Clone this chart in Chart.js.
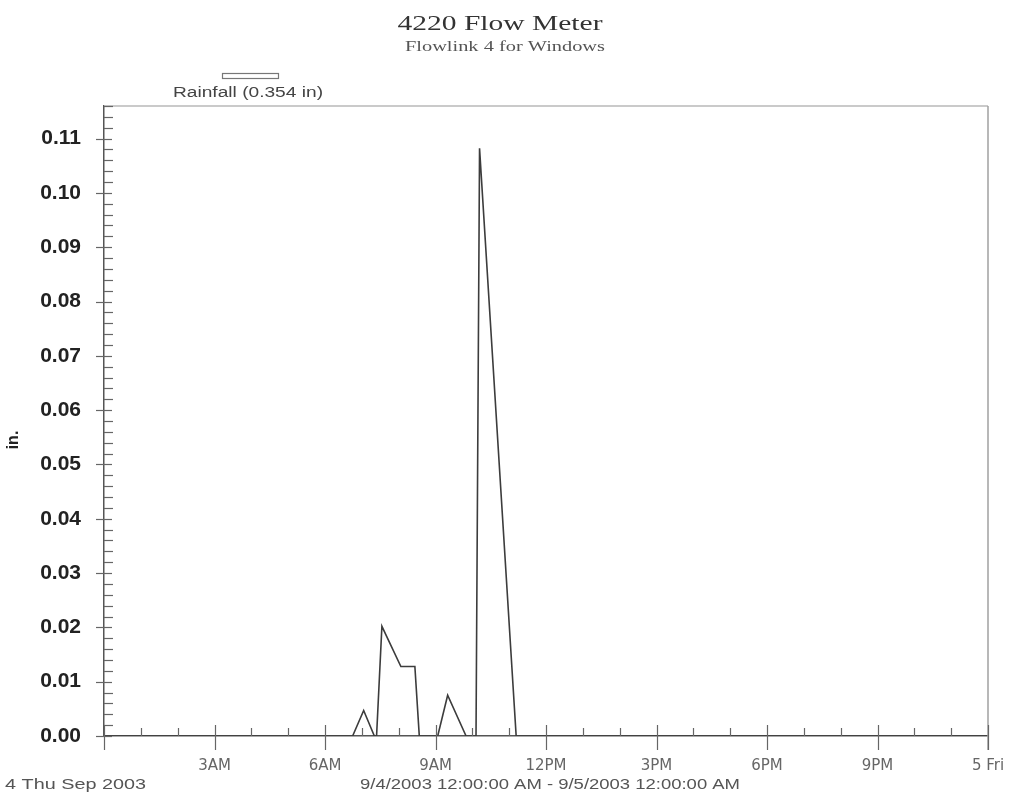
<!DOCTYPE html>
<html>
<head>
<meta charset="utf-8">
<title>4220 Flow Meter</title>
<script src="https://cdn.jsdelivr.net/npm/chart.js@4/dist/chart.umd.min.js"></script>
<style>
  html, body { margin: 0; padding: 0; background: #fff; }
  #wrap { width: 1013px; height: 798px; position: relative; }
</style>
</head>
<body>
<div id="wrap"><canvas id="rain"></canvas></div>
<script>
// rainfall trace, hours since midnight 9/4/2003 and inches per reading
const hours  = [0, 6.75, 7.05,  7.34, 7.40, 7.545, 8.06,   8.44,   8.56, 9.06, 9.33,   9.83, 10.10, 10.196, 11.19, 24]
const rainIn = [0, 0,    0.0047, 0,   0,    0.0202, 0.0128, 0.0128, 0,    0,    0.0075, 0,    0,     0.1082, 0,     0]

const hourLabels = ["", "3AM", "6AM", "9AM", "12PM", "3PM", "6PM", "9PM", "5 Fri"]
const yMax = 0.116
const seriesLabel = "Rainfall (0.354 in)"
const chartTitle = "4220 Flow Meter"
const chartSubtitle = "Flowlink 4 for Windows"
const startLabel = "4 Thu Sep 2003"
const rangeLabel = "9/4/2003 12:00:00 AM - 9/5/2003 12:00:00 AM"

// text squeezed/stretched to a given width, centred on cx
function stretchText(ctx, text, cx, baseline, font, color, width) {
  ctx.save()
  ctx.font = font
  ctx.fillStyle = color
  ctx.textAlign = "center"
  ctx.textBaseline = "alphabetic"
  const w = ctx.measureText(text).width
  ctx.translate(cx, baseline)
  ctx.scale(width / w, 1)
  ctx.fillText(text, 0, 0)
  ctx.restore()
}

const framePlugin = {
  id: "frame",
  afterDraw(chart) {
    const { ctx, chartArea: a, scales: { x, y } } = chart
    ctx.save()

    // light top and right edges of the plot box
    ctx.lineWidth = 1.5
    ctx.strokeStyle = "#b8b8b8"
    ctx.beginPath()
    ctx.moveTo(a.left, a.top)
    ctx.lineTo(a.right, a.top)
    ctx.stroke()
    ctx.strokeStyle = "#a0a0a0"
    ctx.beginPath()
    ctx.moveTo(a.right, a.top)
    ctx.lineTo(a.right, a.bottom + 14)
    ctx.stroke()

    // y ticks: labelled every 0.01, small ones every 0.002
    ctx.strokeStyle = "#666"
    ctx.lineWidth = 1.2
    for (let k = 0; k * 0.002 <= yMax + 1e-9; k++) {
      const py = Math.round(y.getPixelForValue(k * 0.002)) + 0.5
      const major = k % 5 === 0
      ctx.beginPath()
      ctx.moveTo(a.left - (major ? 8 : 0), py)
      ctx.lineTo(a.left + (major ? 8 : 9), py)
      ctx.stroke()
    }

    // x ticks: every 3 hours across the axis, hourly inside
    for (let h = 0; h <= 24; h++) {
      const px = Math.round(x.getPixelForValue(h)) + 0.5
      const major = h % 3 === 0
      ctx.beginPath()
      ctx.moveTo(px, a.bottom - (major ? 11 : 8))
      ctx.lineTo(px, a.bottom + (major ? 14 : 0))
      ctx.stroke()
    }

    // axis title
    ctx.save()
    ctx.translate(14, 440)
    ctx.rotate(-Math.PI / 2)
    ctx.font = "bold 16px 'Liberation Sans'"
    ctx.fillStyle = "#222"
    ctx.textAlign = "center"
    ctx.textBaseline = "middle"
    ctx.fillText("in.", 0, 0)
    ctx.restore()

    // headings
    stretchText(ctx, chartTitle, 500, 30, "22px 'Liberation Serif'", "#333", 205)
    stretchText(ctx, chartSubtitle, 505, 51, "14px 'Liberation Serif'", "#555", 200)

    // series key: open swatch above its name
    ctx.strokeStyle = "#777"
    ctx.lineWidth = 1.2
    ctx.strokeRect(222.5, 73.5, 56, 5)
    stretchText(ctx, seriesLabel, 248, 97, "14px 'Liberation Sans'", "#444", 150)

    // date footer
    stretchText(ctx, startLabel, 75.5, 789, "14px 'Liberation Sans'", "#555", 141)
    stretchText(ctx, rangeLabel, 550, 789, "14px 'Liberation Sans'", "#555", 380)

    ctx.restore()
  }
}

const ctx = document.getElementById("rain").getContext("2d")

new Chart(ctx, {
  type: "line",
  data: {
    datasets: [
      {
        label: seriesLabel,
        data: hours.map((h, i) => ({ x: h, y: rainIn[i] })),
        borderColor: "#3c3c3c",
        borderWidth: 1.6,
        pointRadius: 0,
        tension: 0,
        fill: false,
      },
    ],
  },
  options: {
    responsive: true,
    maintainAspectRatio: false,
    animation: false,
    layout: { padding: { top: 106, right: 25, bottom: 0, left: 0 } },
    plugins: {
      legend: { display: false },
      title: { display: false },
      tooltip: { enabled: false },
    },
    scales: {
      x: {
        type: "linear",
        min: 0,
        max: 24,
        afterFit: (s) => {
          s.height = 62
          s.paddingLeft = 0
          s.paddingRight = 0
        },
        grid: { display: false, drawTicks: false },
        border: { color: "#555", width: 1.5 },
        ticks: {
          stepSize: 3,
          autoSkip: false,
          maxRotation: 0,
          padding: 21,
          color: "#666",
          font: { family: "DejaVu Sans", size: 15 },
          callback: (v) => hourLabels[Math.round(v / 3)] ?? "",
        },
      },
      y: {
        min: 0,
        max: yMax,
        afterFit: (s) => { s.width = 104 },
        grid: { display: false, drawTicks: false },
        border: { color: "#555", width: 1.5 },
        ticks: {
          stepSize: 0.01,
          includeBounds: false,
          padding: 23,
          color: "#222",
          font: { family: "Liberation Sans", weight: "bold", size: 21 },
          callback: (v) => v.toFixed(2),
        },
      },
    },
  },
  plugins: [framePlugin],
})
</script>
</body>
</html>
